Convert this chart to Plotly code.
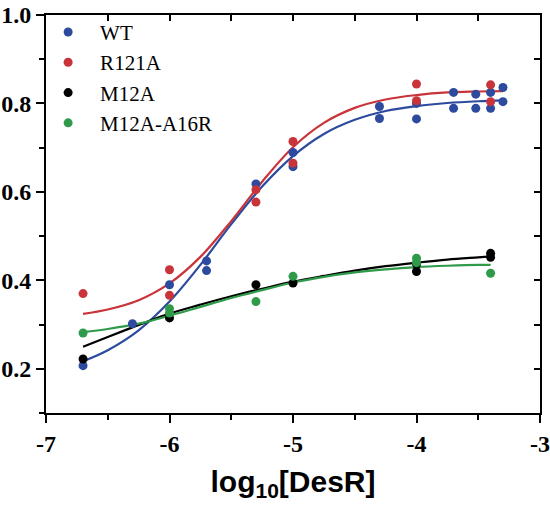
import plotly.graph_objects as go

# ---------------- data ----------------
wt_x = [-6.7, -6.3, -6.0, -5.7, -5.7, -5.3, -5.0, -5.0, -4.3, -4.3, -4.0, -4.0,
        -3.7, -3.7, -3.52, -3.52, -3.4, -3.4, -3.3, -3.3]
wt_y = [0.207, 0.302, 0.390, 0.444, 0.422, 0.618, 0.689, 0.657, 0.793, 0.766, 0.765, 0.800,
        0.825, 0.789, 0.821, 0.789, 0.825, 0.789, 0.836, 0.804]

r121a_x = [-6.7, -6.0, -6.0, -5.3, -5.3, -5.0, -5.0, -4.0, -4.0, -3.4, -3.4]
r121a_y = [0.370, 0.424, 0.366, 0.605, 0.577, 0.714, 0.665, 0.844, 0.806, 0.842, 0.804]

m12a_x = [-6.7, -6.0, -5.3, -5.0, -4.0, -4.0, -3.4, -3.4]
m12a_y = [0.222, 0.315, 0.390, 0.394, 0.437, 0.420, 0.461, 0.452]

m12a_a16r_x = [-6.7, -6.0, -6.0, -5.3, -5.0, -4.0, -4.0, -3.4]
m12a_a16r_y = [0.281, 0.336, 0.326, 0.352, 0.409, 0.450, 0.440, 0.416]

# fitted curves
fit_x_long = [-6.7, -6.5, -6.25, -6.0, -5.75, -5.5, -5.25, -5.0, -4.75, -4.5, -4.25, -4.0, -3.75, -3.5, -3.3]
wt_fit = [0.217, 0.242, 0.287, 0.352, 0.435, 0.527, 0.612, 0.681, 0.731, 0.763, 0.783, 0.794, 0.801, 0.805, 0.807]
r121a_fit = [0.324, 0.334, 0.355, 0.393, 0.453, 0.534, 0.623, 0.701, 0.756, 0.790, 0.809, 0.819, 0.825, 0.827, 0.828]

fit_x_short = [-6.7, -6.5, -6.25, -6.0, -5.75, -5.5, -5.25, -5.0, -4.75, -4.5, -4.25, -4.0, -3.75, -3.5, -3.4]
m12a_fit = [0.250, 0.272, 0.299, 0.325, 0.345, 0.364, 0.381, 0.397, 0.410, 0.422, 0.432, 0.440, 0.447, 0.452, 0.454]
m12a_a16r_fit = [0.283, 0.290, 0.302, 0.320, 0.340, 0.360, 0.378, 0.395, 0.408, 0.418, 0.425, 0.430, 0.433, 0.435, 0.435]

x_tick_vals = [-7, -6, -5, -4, -3]
x_tick_text = ["-7", "-6", "-5", "-4", "-3"]

names = ["WT", "R121A", "M12A", "M12A-A16R"]
colors = ["#2c4a9e", "#c8343a", "#000000", "#2f9a4a"]

# ---------------- figure ----------------
fig = go.Figure()

series = [
    (wt_x, wt_y, fit_x_long, wt_fit),
    (r121a_x, r121a_y, fit_x_long, r121a_fit),
    (m12a_x, m12a_y, fit_x_short, m12a_fit),
    (m12a_a16r_x, m12a_a16r_y, fit_x_short, m12a_a16r_fit),
]

for (px, py, fx, fy), name, c in zip(series, names, colors):
    fig.add_trace(go.Scatter(x=fx, y=fy, mode="lines", line=dict(color=c, width=2.2, shape="spline"),
                             showlegend=False, hoverinfo="skip"))
for (px, py, fx, fy), name, c in zip(series, names, colors):
    fig.add_trace(go.Scatter(x=px, y=py, mode="markers", name=name,
                             marker=dict(color=c, size=9, line=dict(width=0))))

# dummy trace so the mirrored inner-tick axes are drawn
fig.add_trace(go.Scatter(x=[None], y=[None], xaxis="x2", yaxis="y2", showlegend=False, hoverinfo="skip"))

tickfont = dict(family="Liberation Serif", size=24, color="black", weight="bold")

fig.update_layout(
    width=550, height=507,
    margin=dict(l=46, r=10, t=15, b=94, autoexpand=False),
    paper_bgcolor="white", plot_bgcolor="white",
    showlegend=True,
    legend=dict(x=-0.02, y=1.008, xanchor="left", yanchor="top",
                font=dict(family="Liberation Serif", size=21, color="black"),
                bgcolor="rgba(0,0,0,0)", itemwidth=54, tracegroupgap=0),
    xaxis=dict(range=[-7, -3], showgrid=False, zeroline=False, automargin=False,
               showline=True, linecolor="black", linewidth=2, mirror=True,
               ticks="outside", ticklen=8, tickwidth=2, tickcolor="black",
               tickvals=x_tick_vals, ticktext=x_tick_text, tickfont=tickfont,
               ticklabeloverflow="allow",
               minor=dict(dtick=0.5, tick0=-7, ticks="outside", ticklen=5, tickwidth=2, tickcolor="black"),
               title=dict(text="log<sub>10</sub>[DesR]",
                          font=dict(family="Liberation Sans", size=30, color="black", weight="bold"),
                          standoff=15)),
    yaxis=dict(range=[0.1, 1.0], showgrid=False, zeroline=False, automargin=False,
               showline=True, linecolor="black", linewidth=2, mirror=True,
               ticks="outside", ticklen=8, tickwidth=2, tickcolor="black",
               tick0=0, dtick=0.2, tickformat=".1f", tickfont=tickfont,
               ticklabeloverflow="allow",
               minor=dict(dtick=0.1, tick0=0, ticks="outside", ticklen=5, tickwidth=2, tickcolor="black")),
    xaxis2=dict(range=[-7, -3], overlaying="x", side="top", showgrid=False, zeroline=False,
                automargin=False, showline=False, ticks="inside", ticklen=6, tickwidth=2,
                tickcolor="black", tick0=-7, dtick=0.5, showticklabels=False),
    yaxis2=dict(range=[0.1, 1.0], overlaying="y", side="right", showgrid=False, zeroline=False,
                automargin=False, showline=False, ticks="inside", ticklen=6, tickwidth=2,
                tickcolor="black", tick0=0, dtick=0.1, showticklabels=False),
)

# remove the browser's default 8px body margin so the figure fills the window exactly
fig.write_html("out.html", config={"displayModeBar": False},
               post_script="document.body.style.margin='0';")
